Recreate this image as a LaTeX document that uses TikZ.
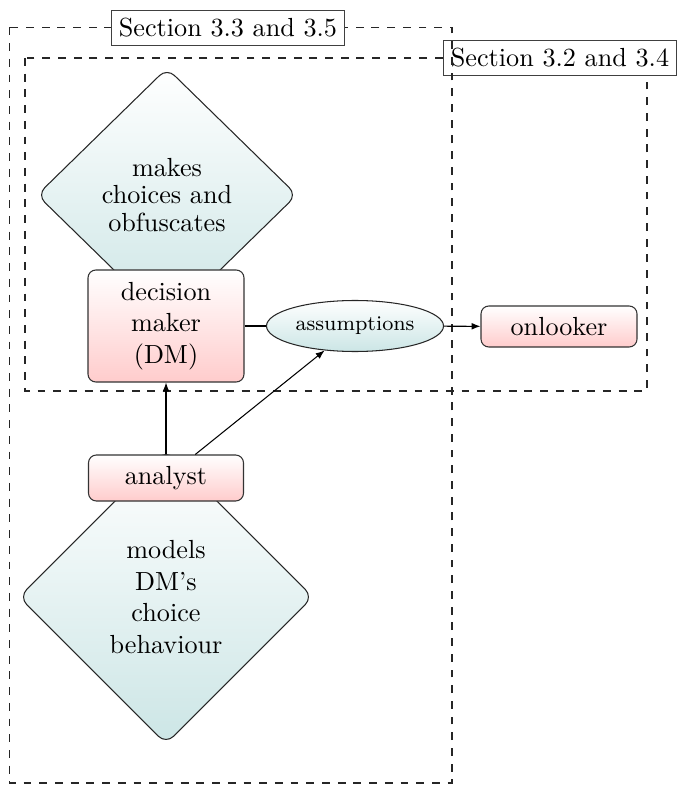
\documentclass[tikz,border=0pt]{standalone}
\usetikzlibrary{shapes.geometric,arrows.meta}
\newcommand{\PXu}{0.382pt}
\tikzset{
 pinkbox/.style={draw=black!80, rounded corners=3pt, top color=white, bottom color=red!20, align=center, inner sep=0pt},
 tealdiamond/.style={diamond, draw=black!85, rounded corners=4pt, top color=white, bottom color=teal!20, align=center, inner sep=0pt},
 tealell/.style={ellipse, draw=black!85, top color=white, bottom color=teal!20, inner sep=0pt, font=\footnotesize},
 sectlabel/.style={draw=black!75, fill=white, inner sep=3pt},
 frame/.style={dashed, draw=black!85},
 arr/.style={-{Latex[length=3.4pt,width=2.6pt]}},
}
\begin{document}
\begin{tikzpicture}[x=\PXu,y=-\PXu]
\useasboundingbox (0,0) rectangle (680,786);
\coordinate (inNW) at (25,58);
\coordinate (inSE) at (647,391);
\coordinate (outNW) at (9.5,27.5);
\coordinate (outSE) at (452,783);
\draw[frame] (inNW) rectangle (inSE);
\node[sectlabel] (lab2) at (560,58) {Section 3.2 and 3.4};
\draw[frame] (outNW) rectangle (outSE);
\node[sectlabel] (lab1) at (228,28) {Section 3.3 and 3.5};
\node[tealdiamond, minimum width={260*\PXu}, minimum height={254*\PXu}] (makes) at (167,195) {makes\\[-1.5pt]choices and\\[-1.5pt]obfuscates};
\node[tealdiamond, minimum width={294*\PXu}, minimum height={294*\PXu}] (models) at (166,597) {models\\DM's\\choice\\behaviour};
\node[pinkbox, minimum width={156*\PXu}, minimum height={112*\PXu}] (dm) at (166,326) {decision\\maker\\(DM)};
\node[pinkbox, minimum width={155*\PXu}, minimum height={46*\PXu}] (analyst) at (166,478) {analyst};
\node[tealell, minimum width={177*\PXu}, minimum height={51*\PXu}] (assump) at (355,326) {assumptions};
\node[pinkbox, minimum width={156*\PXu}, minimum height={41*\PXu}] (onlooker) at (559,326.5) {onlooker};
\draw[arr] (analyst) -- (dm);
\draw[arr] (analyst) -- (assump);
\draw (dm) -- (assump);
\draw[arr] (assump) -- (onlooker);
\end{tikzpicture}
\end{document}
